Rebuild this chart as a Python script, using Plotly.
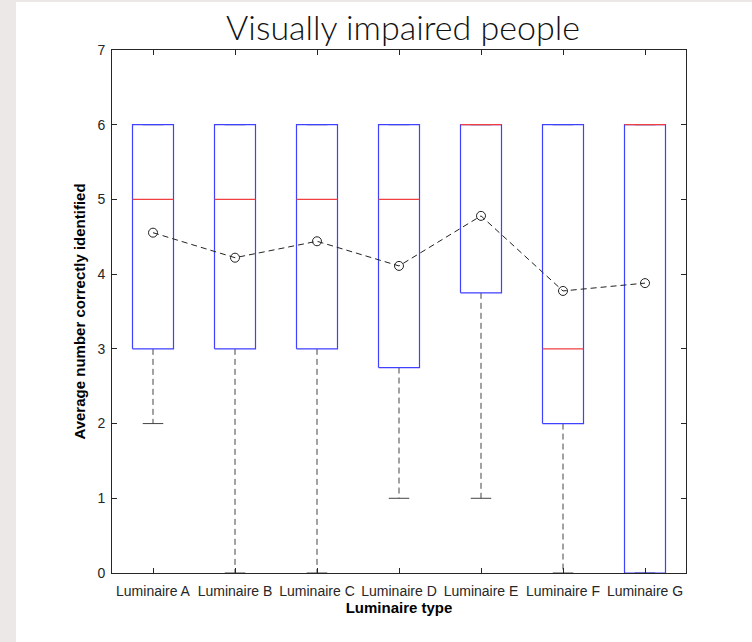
import plotly.graph_objects as go

categories = ["Luminaire A", "Luminaire B", "Luminaire C", "Luminaire D",
              "Luminaire E", "Luminaire F", "Luminaire G"]
q1 = [3, 3, 3, 2.75, 3.75, 2, 0]
median = [5, 5, 5, 5, 6, 3, 6]
q3 = [6, 6, 6, 6, 6, 6, 6]
lower_whisker = [2, 0, 0, 1, 1, 0, 0]
upper_whisker = [6, 6, 6, 6, 6, 6, 6]
means = [4.555, 4.22, 4.44, 4.11, 4.78, 3.775, 3.88]
y_ticks = [0, 1, 2, 3, 4, 5, 6, 7]

BOX_HALF = 0.25
CAP_HALF = 0.125
pos = list(range(1, len(categories) + 1))

fig = go.Figure()

# whiskers (dashed) and caps
wx, wy, cx, cy = [], [], [], []
for p, a, b, lo, hi in zip(pos, q1, q3, lower_whisker, upper_whisker):
    wx += [p, p, None, p, p, None]
    wy += [a, lo, None, b, hi, None]
    cx += [p - CAP_HALF, p + CAP_HALF, None, p - CAP_HALF, p + CAP_HALF, None]
    cy += [lo, lo, None, hi, hi, None]
fig.add_trace(go.Scatter(x=wx, y=wy, mode="lines", cliponaxis=False,
                         line=dict(color="#444444", width=1, dash="6px,4px"),
                         hoverinfo="skip", showlegend=False))
fig.add_trace(go.Scatter(x=cx, y=cy, mode="lines", cliponaxis=False,
                         line=dict(color="#444444", width=1),
                         hoverinfo="skip", showlegend=False))

# boxes
bx, by = [], []
for p, a, b in zip(pos, q1, q3):
    bx += [p - BOX_HALF, p + BOX_HALF, p + BOX_HALF, p - BOX_HALF, p - BOX_HALF, None]
    by += [a, a, b, b, a, None]
fig.add_trace(go.Scatter(x=bx, y=by, mode="lines", cliponaxis=False,
                         line=dict(color="#4040ff", width=1.2),
                         hoverinfo="skip", showlegend=False))

# medians
mx, my = [], []
for p, m in zip(pos, median):
    mx += [p - BOX_HALF, p + BOX_HALF, None]
    my += [m, m, None]
fig.add_trace(go.Scatter(x=mx, y=my, mode="lines", cliponaxis=False,
                         line=dict(color="#f04040", width=1.2),
                         hoverinfo="skip", showlegend=False))

# means
fig.add_trace(go.Scatter(x=pos, y=means, mode="lines+markers",
                         line=dict(color="#222222", width=1, dash="6px,4px"),
                         marker=dict(symbol="circle-open", size=9,
                                     color="#222222", line=dict(width=1)),
                         showlegend=False))

axis_col = "#262626"
fig.update_xaxes(range=[0.5, 7.5], tickmode="array", tickvals=pos,
                 ticktext=categories, ticks="inside", ticklen=5,
                 tickcolor=axis_col, showline=True, linecolor=axis_col,
                 linewidth=1, mirror="ticks", showgrid=False, zeroline=False,
                 ticklabelstandoff=5,
                 tickfont=dict(family="Liberation Sans", size=14, color=axis_col),
                 title=dict(text="<b>Luminaire type</b>", standoff=4,
                            font=dict(family="Liberation Sans", size=15, color="#000")))
fig.update_yaxes(range=[0, 7], tickmode="array", tickvals=y_ticks,
                 ticks="inside", ticklen=5, tickcolor=axis_col,
                 showline=True, linecolor=axis_col, linewidth=1,
                 mirror="ticks", showgrid=False, zeroline=False,
                 ticklabelstandoff=3,
                 tickfont=dict(family="Liberation Sans", size=14, color=axis_col),
                 title=dict(text="<b>Average number correctly identified</b>",
                            standoff=8,
                            font=dict(family="Liberation Sans", size=15, color="#000")))

# page background: grey strip on left and top
fig.add_shape(type="rect", xref="paper", yref="paper",
              x0=(16 - 112) / 574, x1=(760 - 112) / 574,
              y0=(573 - 650) / 523, y1=(573 - 2) / 523,
              fillcolor="white", line=dict(width=0), layer="below")

fig.update_layout(
    width=752, height=642,
    margin=dict(l=112, r=66, t=50, b=69),
    paper_bgcolor="#ede8e8", plot_bgcolor="white",
    title=dict(text="Visually impaired people", x=403 / 752, xanchor="center",
               y=1 - 28 / 642, yanchor="middle",
               font=dict(family="Lato", size=34, weight=300, color="#111")),
)

fig.write_html("out.html", config={"displayModeBar": False},
               post_script="document.body.style.margin='0';document.body.style.padding='0';")
